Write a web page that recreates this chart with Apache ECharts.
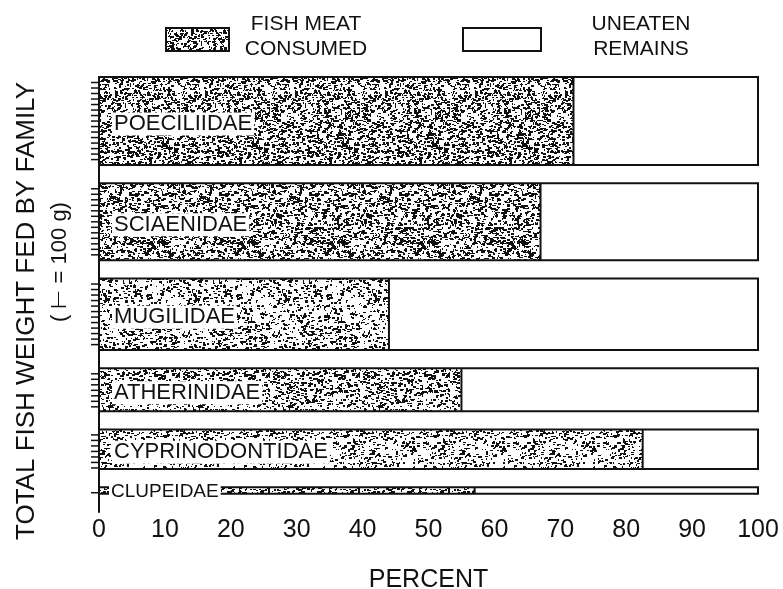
<!DOCTYPE html>
<html><head>
<meta charset="UTF-8">
<title>Fish meat consumed by family</title>
<script src="https://cdn.jsdelivr.net/npm/echarts@6/dist/echarts.min.js"></script>
<style>html,body{margin:0;padding:0;background:#fff}#main{width:783px;height:589px}</style>
</head><body>
<div id="main"></div>
<script>
// families, top to bottom
var families = ['POECILIIDAE', 'SCIAENIDAE', 'MUGILIDAE', 'ATHERINIDAE', 'CYPRINODONTIDAE', 'CLUPEIDAE'];
// total fish weight fed (g); one tick = 100 g
var weightFed = [1600, 1400, 1300, 780, 720, 120];
// percent fish meat consumed (rest = uneaten remains)
var consumedPct = [72, 67, 44, 55, 82.5, 57];
var xTicks = [0, 10, 20, 30, 40, 50, 60, 70, 80, 90, 100];

var GAP = 330;   // empty space between bars, in grams of the y scale
var FONT = '"Liberation Sans", Arial, sans-serif';
var stipple = [0.46, 0.44, 0.27, 0.34, 0.27, 0.32];

// speckled fill, deterministic
function makePattern(cover, seed) {
    var c = document.createElement('canvas');
    c.width = 90; c.height = 90;
    var ctx = c.getContext('2d');
    ctx.fillStyle = '#fff';
    ctx.fillRect(0, 0, 90, 90);
    ctx.fillStyle = '#111';
    var s = seed;
    function rnd() { s = (s * 1103515245 + 12345) % 2147483648; return s / 2147483648; }
    var n = Math.round(3000 * cover);
    for (var k = 0; k < n; k++) {
        var x = Math.floor(rnd() * 90), y = Math.floor(rnd() * 90);
        var w = 1 + Math.floor(rnd() * 3), h = 1 + Math.floor(rnd() * 2);
        ctx.fillRect(x, y, w, h);
    }
    return c;
}
var patterns = stipple.map(function (d, i) { return makePattern(d, 97 + i * 31); });

// rows: [index, yStart, yEnd, consumed]
var rows = [];
var acc = 0;
for (var i = 0; i < families.length; i++) {
    rows.push([i, acc, acc + weightFed[i], consumedPct[i]]);
    acc += weightFed[i] + GAP;
}
var yMax = acc;

function renderBar(params, api) {
    var i = api.value(0), y0 = api.value(1), y1 = api.value(2), pct = api.value(3);
    var a = api.coord([0, y0]), b = api.coord([pct, y1]), c = api.coord([100, y1]);
    var top = a[1], h = b[1] - a[1];
    var kids = [
        {type: 'rect', shape: {x: a[0], y: top, width: b[0] - a[0], height: h},
            style: {fill: {image: patterns[i], repeat: 'repeat'}}},
        {type: 'rect', shape: {x: b[0], y: top, width: c[0] - b[0], height: h}, style: {fill: '#fff'}},
        {type: 'line', shape: {x1: b[0], y1: top, x2: b[0], y2: top + h}, style: {stroke: '#111', lineWidth: 2}},
        {type: 'rect', shape: {x: a[0], y: top, width: c[0] - a[0], height: h},
            style: {fill: null, stroke: '#111', lineWidth: 2}}
    ];
    // 100 g ticks on the left of the bar
    for (var g = 100; g < weightFed[i]; g += 100) {
        var p = api.coord([0, y0 + g]);
        kids.push({type: 'line', shape: {x1: p[0] - 8, y1: p[1], x2: p[0], y2: p[1]},
            style: {stroke: '#111', lineWidth: 1.5}});
    }
    var small = h < 20;
    kids.push({type: 'text', z2: 10, x: a[0] + (small ? 10 : 13), y: top + h / 2 + (small ? 1 : 3),
        style: {text: families[i], fill: '#111', font: (small ? 19 : 22) + 'px ' + FONT,
            verticalAlign: 'middle', textVerticalAlign: 'middle',
            backgroundColor: '#fff', padding: [1, 2, 0, 2]}});
    return {type: 'group', children: kids};
}

var chart = echarts.init(document.getElementById('main'));
chart.setOption({
    animation: false,
    backgroundColor: '#fff',
    grid: {left: 99, right: 25, top: 77, bottom: 77, outerBoundsMode: 'none'},
    xAxis: {
        type: 'value', min: 0, max: 100, interval: 10,
        name: 'PERCENT', nameLocation: 'middle', nameGap: 56,
        nameTextStyle: {fontSize: 25, color: '#111', fontFamily: FONT},
        axisLine: {show: true, lineStyle: {color: '#111', width: 2}},
        axisTick: {show: true, length: 7, lineStyle: {color: '#111', width: 1.5}},
        axisLabel: {fontSize: 25, color: '#111', fontFamily: FONT, margin: 6,
            formatter: function (v) { return xTicks.indexOf(v) >= 0 ? String(v) : ''; }},
        splitLine: {show: false}
    },
    yAxis: {
        type: 'value', min: 0, max: yMax, inverse: true,
        axisLine: {show: true, lineStyle: {color: '#111', width: 2}},
        axisTick: {show: false}, axisLabel: {show: false}, splitLine: {show: false}
    },
    graphic: [
        {type: 'text', x: 27, y: 311, rotation: Math.PI / 2,
            style: {text: 'TOTAL FISH WEIGHT FED BY FAMILY', font: '26px ' + FONT, fill: '#111',
                align: 'center', textAlign: 'center', verticalAlign: 'middle', textVerticalAlign: 'middle'}},
        {type: 'text', x: 60, y: 262, rotation: Math.PI / 2,
            style: {text: '( \u22A2 = 100 g)', font: '22px ' + FONT, fill: '#111',
                align: 'center', textAlign: 'center', verticalAlign: 'middle', textVerticalAlign: 'middle'}},
        {type: 'rect', left: 165, top: 27, shape: {width: 63, height: 23},
            style: {fill: {image: patterns[0], repeat: 'repeat'}, stroke: '#111', lineWidth: 2}},
        {type: 'text', x: 306, y: 12,
            style: {text: 'FISH MEAT\nCONSUMED', font: '21px ' + FONT, fill: '#111', lineHeight: 25,
                align: 'center', textAlign: 'center'}},
        {type: 'rect', left: 462, top: 27, shape: {width: 78, height: 23},
            style: {fill: '#fff', stroke: '#111', lineWidth: 2}},
        {type: 'text', x: 641, y: 12,
            style: {text: 'UNEATEN\nREMAINS', font: '21px ' + FONT, fill: '#111', lineHeight: 25,
                align: 'center', textAlign: 'center'}}
    ],
    series: [{
        type: 'custom',
        renderItem: renderBar,
        dimensions: ['idx', 'start', 'end', 'pct'],
        encode: {x: 3, y: [1, 2]},
        data: rows
    }]
});
</script>
</body></html>
